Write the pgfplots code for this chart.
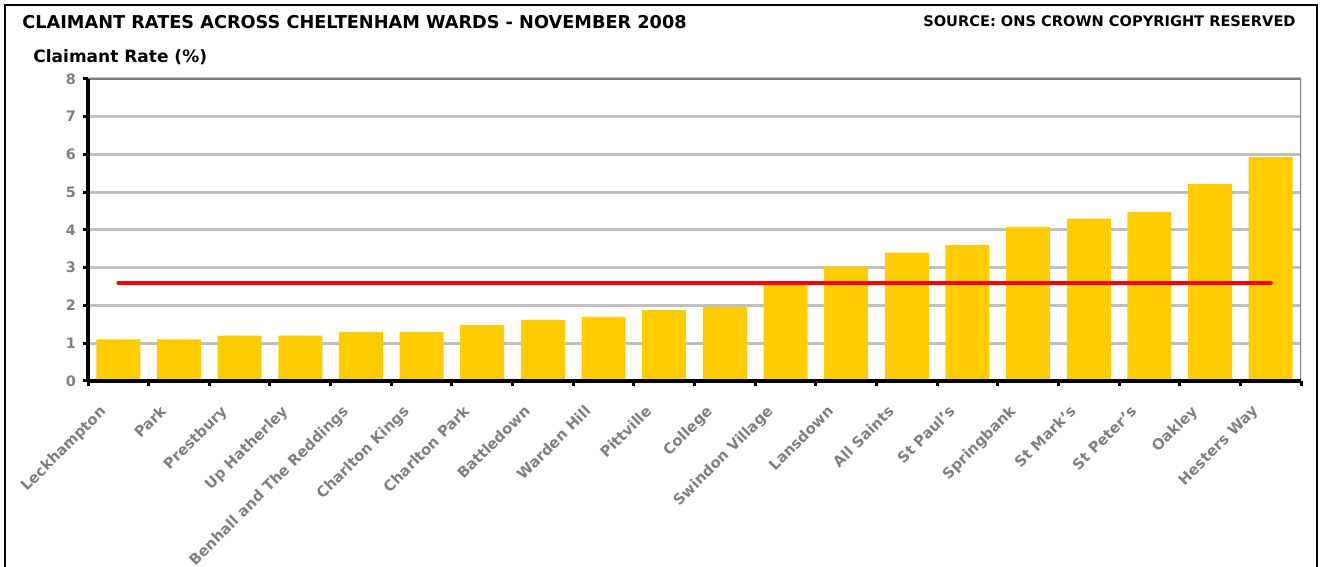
\documentclass[border=0pt]{standalone}
\usepackage{pgfplots}
\pgfplotsset{compat=1.18}
\usepackage{fontspec}
\setmainfont{DejaVu Sans}
\definecolor{barfill}{RGB}{255,204,0}
\definecolor{gridgray}{RGB}{192,192,192}
\definecolor{labgray}{RGB}{128,128,128}
\begin{document}
\begin{tikzpicture}[x=0.5bp,y=0.5bp]
\path[use as bounding box] (0,0) rectangle (1320,567);
\draw[line width=1bp] (5,-40) -- (5,562) -- (1317,562) -- (1317,-40);
\node[anchor=west, inner sep=0pt] at (22,545)
  {\fontsize{8.85bp}{10bp}\selectfont\bfseries CLAIMANT RATES ACROSS CHELTENHAM WARDS - NOVEMBER 2008};
\node[anchor=east, inner sep=0pt] at (1296,546)
  {\fontsize{7.3bp}{9bp}\selectfont\bfseries SOURCE: ONS CROWN COPYRIGHT RESERVED};
\node[anchor=west, inner sep=0pt] at (33,510)
  {\fontsize{8.5bp}{10bp}\selectfont\bfseries Claimant Rate (\%)};
\begin{axis}[
    at={(44bp,93bp)}, anchor=south west,
    scale only axis,
    width=606.5bp, height=151bp,
    xmin=-0.5, xmax=19.5,
    ymin=0, ymax=8,
    axis lines*=left,
    axis line style={-, black, line width=2bp},
    ybar, bar width=22bp,
    ytick={0,1,...,8},
    xtick={0,1,...,19},
    xticklabels={Leckhampton, Park, Prestbury, Up Hatherley, Benhall and The Reddings,
      Charlton Kings, Charlton Park, Battledown, Warden Hill, Pittville, College,
      Swindon Village, Lansdown, All Saints, St Paul's, Springbank, St Mark's,
      St Peter's, Oakley, Hesters Way},
    minor xtick={-0.5,0.5,...,19.5},
    tick align=outside,
    major tick length=2.5bp,
    minor tick length=2.5bp,
    major x tick style={draw=none},
    tick style={black, line width=1.5bp},
    ymajorgrids,
    major grid style={gridgray, line width=1.5bp},
    /pgf/number format/assume math mode=true,
    yticklabel style={font=\fontsize{7.2bp}{8bp}\selectfont\bfseries, text=labgray},
    xticklabel style={font=\fontsize{7.4bp}{8bp}\selectfont\bfseries, text=labgray,
      rotate=45, anchor=north east, xshift=-10bp, yshift=4bp},
]
\addplot[fill=barfill, draw=none] coordinates {
  (0,1.10) (1,1.10) (2,1.20) (3,1.20) (4,1.30) (5,1.30) (6,1.48) (7,1.62)
  (8,1.70) (9,1.88) (10,1.96) (11,2.60) (12,3.03) (13,3.40) (14,3.60)
  (15,4.08) (16,4.30) (17,4.48) (18,5.22) (19,5.93)};
\addplot[red, line width=2bp, line cap=round, sharp plot, forget plot] coordinates {(0,2.6) (19,2.6)};
\draw[labgray, line width=0.8bp] (rel axis cs:0,1) -- (rel axis cs:1,1) -- (rel axis cs:1,0);
\draw[black, line width=2bp] (rel axis cs:0,1) -- (rel axis cs:0,0) -- (rel axis cs:1,0);
\end{axis}
\end{tikzpicture}
\end{document}
